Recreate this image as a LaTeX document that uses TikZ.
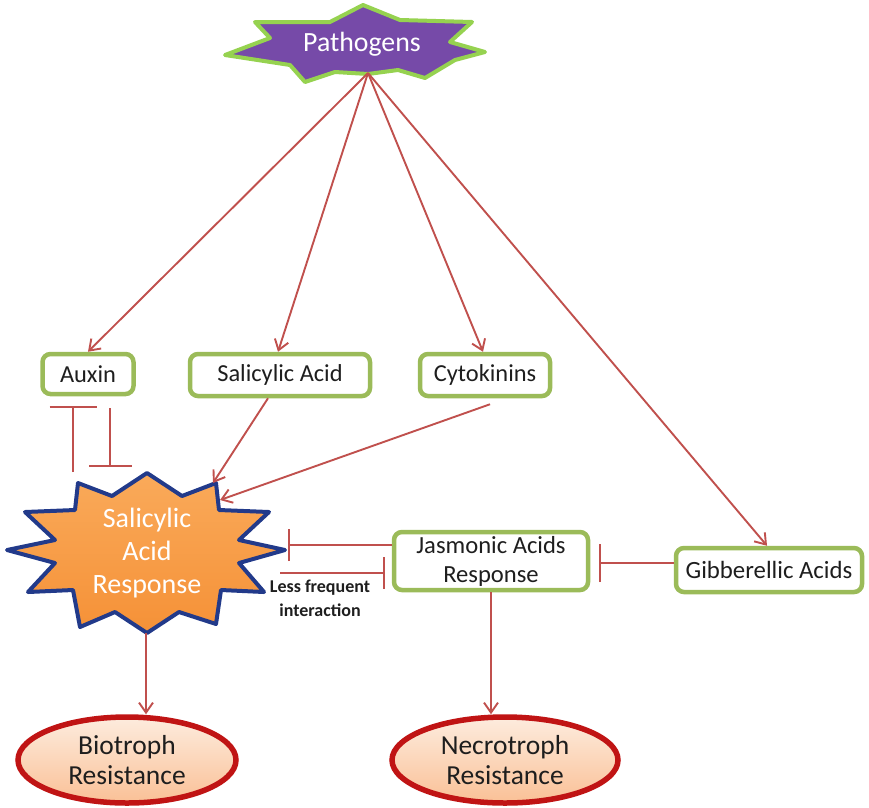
\documentclass[tikz,border=0pt]{standalone}
\usepackage{fontspec}
\setmainfont{Carlito}
\usetikzlibrary{arrows.meta,shapes.geometric,calc}
\definecolor{linkred}{RGB}{192,80,77}
\definecolor{boxgreen}{RGB}{155,187,89}
\definecolor{textgray}{RGB}{30,30,30}
\definecolor{sarblue}{RGB}{34,58,138}
\definecolor{sarorange}{RGB}{245,145,55}
\definecolor{sarlight}{RGB}{250,170,90}
\definecolor{pathpurple}{RGB}{118,74,168}
\definecolor{pathgreen}{RGB}{150,210,80}
\definecolor{resred}{RGB}{192,20,20}
\definecolor{peachtop}{RGB}{253,236,222}
\definecolor{peachbot}{RGB}{250,192,150}

\begin{document}
\begin{tikzpicture}[x=1pt,y=-1pt,
  hbox/.style={draw=boxgreen, line width=4.5pt, rounded corners=8pt, fill=white,
    inner sep=0pt, text=textgray, align=center, font=\fontsize{24.4}{28}\selectfont},
  arr/.style={draw=linkred, line width=1.9pt, -{Straight Barb[length=10pt,width=14pt]}},
  inh/.style={draw=linkred, line width=1.9pt, -{Bar[width=32pt]}},
  outcome/.style={ellipse, draw=resred, line width=5.5pt, top color=peachtop,
    bottom color=peachbot, inner sep=0pt, align=center, text=textgray,
    font=\fontsize{27.5}{30}\selectfont},
  starlabel/.style={text=white, align=center}]

\useasboundingbox (0,0) rectangle (869,807);

% Pathogens burst
\filldraw[fill=pathpurple, draw=pathgreen, line width=4pt, line join=round]
  (225,55) -- (270,38) -- (255,22) -- (330,22) -- (363,5) -- (400,20) -- (472,22)
  -- (450,42) -- (485,52) -- (455,60) -- (425,78) -- (398,70) -- (368,74)
  -- (335,72) -- (305,82) -- (290,65) -- cycle;
\node[starlabel, font=\fontsize{27.8}{30}\selectfont] (path) at (362,44) {Pathogens};
\coordinate (pbase) at (368,73);

% Hormone boxes
\node[hbox, minimum width=91pt, minimum height=40pt] (aux) at (88,374) {Auxin};
\node[hbox, minimum width=180pt, minimum height=42pt] (sa) at (280,375) {Salicylic Acid};
\node[hbox, minimum width=130pt, minimum height=42pt] (cyt) at (485,375) {Cytokinins};
\node[hbox, minimum width=194pt, minimum height=58pt, font=\fontsize{24.6}{29}\selectfont]
  (jas) at (491,561) {Jasmonic Acids\\Response};
\node[hbox, minimum width=186pt, minimum height=44pt, font=\fontsize{24.8}{28}\selectfont]
  (gib) at (769,570) {Gibberellic Acids};

% Salicylic acid response burst
\filldraw[top color=sarlight, bottom color=sarorange, draw=sarblue, line width=4pt, line join=round]
  (147,473) -- (182,496) -- (216,483) -- (219,510) -- (269,512) -- (239,540)
  -- (285,550) -- (239,563) -- (264,592) -- (221,590) -- (216,624) -- (179,612)
  -- (147,633) -- (115,612) -- (80,627) -- (73,590) -- (28,592) -- (55,563)
  -- (7,550) -- (55,540) -- (25,512) -- (75,510) -- (78,483) -- (112,496) -- cycle;
\node[starlabel, font=\fontsize{28}{33}\selectfont] (sar) at (147,553) {Salicylic\\Acid\\Response};
\coordinate (sartip) at (213,483);
\coordinate (sarflank) at (220,500);
\coordinate (sarbot) at (146,633);

% Outcome ellipses
\node[outcome, minimum width=218pt, minimum height=86pt] (bio) at (127,760) {Biotroph\\Resistance};
\node[outcome, minimum width=226pt, minimum height=86pt] (nec) at (505,760) {Necrotroph\\Resistance};

% Pathogens to hormones
\draw[arr] (pbase) -- (aux.north);
\draw[arr] (pbase) -- ([xshift=-2pt]sa.north);
\draw[arr] (pbase) -- ([xshift=-2pt]cyt.north);
\draw[arr] (pbase) -- ([xshift=-2pt]gib.north);

% Hormones into the salicylic acid response
\draw[arr] ([xshift=-12pt]sa.south) -- (sartip);
\draw[arr] ([xshift=5pt,yshift=-6pt]cyt.south) -- (sarflank);

% Mutual inhibition between auxin and the response
\coordinate (auxL1) at (73,472);
\coordinate (auxL2) at (73,406);
\coordinate (auxR1) at (110,408);
\coordinate (auxR2) at (110,467);
\draw[inh, -{Bar[width=47pt]}] (auxL1) -- (auxL2);
\draw[inh, -{Bar[width=43pt]}] (auxR1) -- (auxR2);

% Jasmonic acid / salicylic acid antagonism
\coordinate (sarstub) at (280,573);
\coordinate (sarhit) at (288,545);
\draw[inh] (jas.west |- sarhit) -- (sarhit);
\draw[inh] (sarstub) -- ([xshift=-7pt]jas.west |- sarstub);
\node[font=\bfseries\fontsize{18}{24}\selectfont, text=textgray, align=center]
  (lessfreq) at (320,598) {Less frequent\\interaction};

% Gibberellic acids inhibit the jasmonic response
\draw[inh, -{Bar[width=38pt]}] (gib.west |- 0,563) -- ([xshift=9pt]jas.east |- 0,563);

% Responses to resistance
\draw[arr] (sarbot) -- (sarbot |- bio.north);
\draw[arr] (jas.south) -- (jas.south |- nec.north);

\end{tikzpicture}
\end{document}
